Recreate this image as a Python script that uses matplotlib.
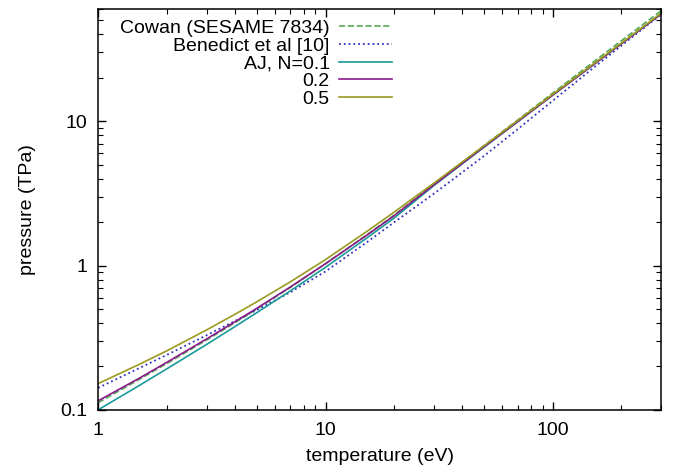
import matplotlib
matplotlib.use("Agg")
import matplotlib.pyplot as plt
from matplotlib.ticker import LogLocator, FixedLocator, FixedFormatter, NullFormatter

plt.rcParams['font.family'] = ['Liberation Sans', 'DejaVu Sans']

# temperature grid (eV)
temp = [1, 1.5, 2, 3, 4, 5, 7, 10, 15, 20, 30, 50, 70, 100, 150, 200, 300]

# pressure (TPa)
cowan = [0.112, 0.161, 0.209, 0.305, 0.402, 0.501, 0.705, 1.03, 1.61, 2.23,
         3.67, 6.81, 10.2, 15.7, 25.6, 36.1, 58.5]
benedict = [0.142, 0.193, 0.240, 0.329, 0.413, 0.494, 0.653, 0.910, 1.43, 1.99,
            3.15, 5.78, 8.81, 13.9, 23.3, 33.4, 55.2]
aj_01 = [0.100, 0.146, 0.192, 0.284, 0.378, 0.473, 0.667, 0.973, 1.53, 2.13,
         3.59, 6.64, 9.91, 15.2, 24.5, 34.4, 55.5]
aj_02 = [0.1155, 0.164, 0.213, 0.310, 0.408, 0.507, 0.710, 1.03, 1.60, 2.21,
         3.63, 6.68, 9.95, 15.2, 24.5, 34.4, 55.6]
aj_05 = [0.152, 0.205, 0.256, 0.358, 0.460, 0.562, 0.771, 1.10, 1.70, 2.34,
         3.73, 6.79, 10.1, 15.4, 24.8, 34.8, 56.2]

xticks = [1, 10, 100]
xlabels = ['1', '10', '100']
yticks = [0.1, 1, 10]
ylabels = ['0.1', '1', '10']


def main():
    fig = plt.figure(figsize=(6.77, 4.70), dpi=100)
    ax = fig.add_axes([0.145, 0.128, 0.832, 0.853])

    ax.plot(temp, cowan, '--', color='#55a855', lw=1.2, label='Cowan (SESAME 7834)')
    ax.plot(temp, benedict, ':', color='#3030c0', lw=1.3, label='Benedict et al [10]')
    ax.plot(temp, aj_01, '-', color='#1a9a9a', lw=1.2, label='AJ, N=0.1')
    ax.plot(temp, aj_02, '-', color='#8a1a8a', lw=1.2, label='0.2')
    ax.plot(temp, aj_05, '-', color='#9a9a20', lw=1.2, label='0.5')

    ax.set_xscale('log')
    ax.set_yscale('log')
    ax.set_xlim(1, 300)
    ax.set_ylim(0.1, 60)

    ax.xaxis.set_major_locator(FixedLocator(xticks))
    ax.xaxis.set_major_formatter(FixedFormatter(xlabels))
    ax.yaxis.set_major_locator(FixedLocator(yticks))
    ax.yaxis.set_major_formatter(FixedFormatter(ylabels))
    ax.xaxis.set_minor_locator(LogLocator(base=10, subs=range(2, 10)))
    ax.yaxis.set_minor_locator(LogLocator(base=10, subs=range(2, 10)))
    ax.xaxis.set_minor_formatter(NullFormatter())
    ax.yaxis.set_minor_formatter(NullFormatter())
    ax.tick_params(which='both', direction='in', top=True, right=True, labelsize=14)
    ax.tick_params(which='major', length=6, width=1)
    ax.tick_params(which='minor', length=3.5, width=0.8)
    ax.tick_params(axis='x', pad=9)
    ax.tick_params(axis='y', pad=8)
    for s in ax.spines.values():
        s.set_linewidth(1.1)

    ax.set_xlabel('temperature (eV)', fontsize=14, labelpad=6)
    ax.set_ylabel('pressure (TPa)', fontsize=14, labelpad=17)

    leg = ax.legend(loc='upper left', bbox_to_anchor=(0.02, 1.0), frameon=False,
                    markerfirst=False, fontsize=14, handlelength=2.7,
                    labelspacing=0.0, handletextpad=0.5, borderaxespad=0.15)
    # right-align the labels like gnuplot does
    for col in leg._legend_handle_box.get_children():
        col.align = 'right'

    fig.savefig('out.png', dpi=100)


if __name__ == "__main__":
    main()
